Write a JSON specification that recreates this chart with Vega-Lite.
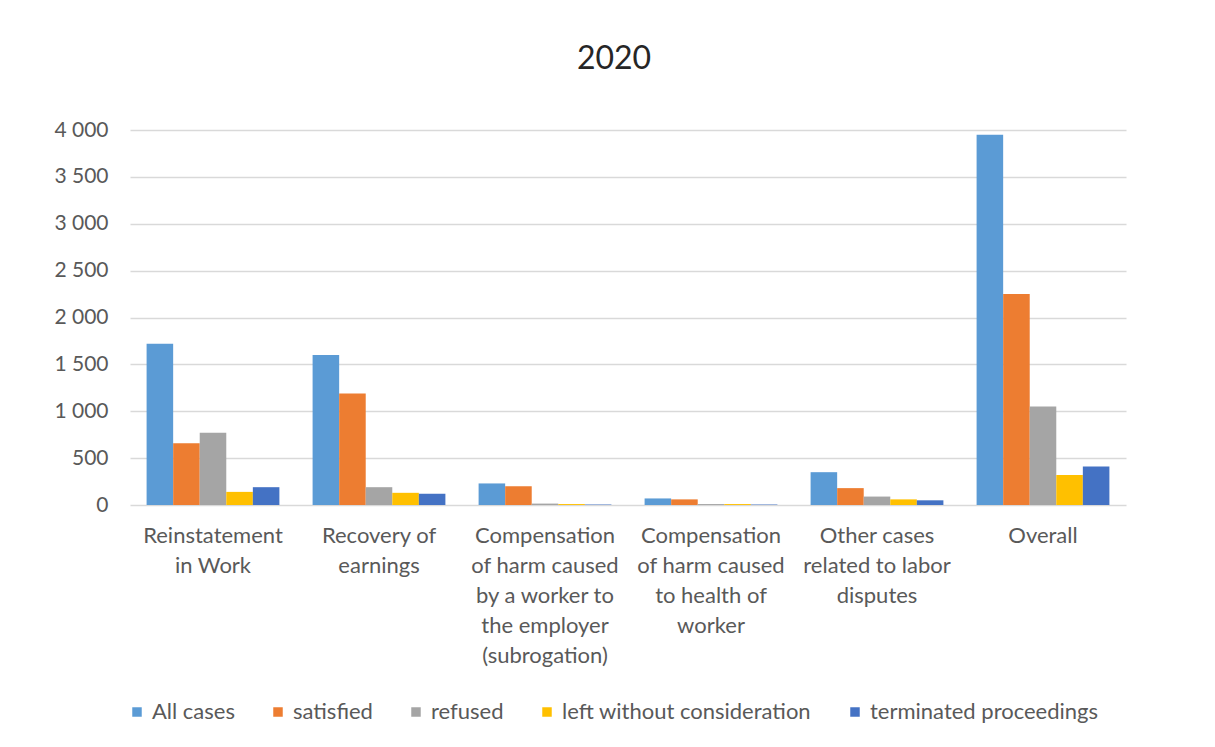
{
  "$schema": "https://vega.github.io/schema/vega-lite/v6.json",
  "autosize": "none",
  "width": 996,
  "height": 375,
  "padding": {"left": 130, "top": 130, "right": 89, "bottom": 242},
  "background": "white",
  "title": {"text": "2020", "fontSize": 32, "font": "Lato", "fontWeight": "normal", "color": "#262626", "anchor": "middle", "frame": "group", "offset": 43, "dx": -14},
  "data": {"values": [
    {"category": "Reinstatement in Work", "series": "All cases", "value": 1720},
    {"category": "Reinstatement in Work", "series": "satisfied", "value": 660},
    {"category": "Reinstatement in Work", "series": "refused", "value": 770},
    {"category": "Reinstatement in Work", "series": "left without consideration", "value": 140},
    {"category": "Reinstatement in Work", "series": "terminated proceedings", "value": 190},
    {"category": "Recovery of earnings", "series": "All cases", "value": 1600},
    {"category": "Recovery of earnings", "series": "satisfied", "value": 1190},
    {"category": "Recovery of earnings", "series": "refused", "value": 190},
    {"category": "Recovery of earnings", "series": "left without consideration", "value": 130},
    {"category": "Recovery of earnings", "series": "terminated proceedings", "value": 120},
    {"category": "Compensation of harm caused by a worker to the employer (subrogation)", "series": "All cases", "value": 230},
    {"category": "Compensation of harm caused by a worker to the employer (subrogation)", "series": "satisfied", "value": 200},
    {"category": "Compensation of harm caused by a worker to the employer (subrogation)", "series": "refused", "value": 15},
    {"category": "Compensation of harm caused by a worker to the employer (subrogation)", "series": "left without consideration", "value": 10},
    {"category": "Compensation of harm caused by a worker to the employer (subrogation)", "series": "terminated proceedings", "value": 5},
    {"category": "Compensation of harm caused to health of worker", "series": "All cases", "value": 70},
    {"category": "Compensation of harm caused to health of worker", "series": "satisfied", "value": 60},
    {"category": "Compensation of harm caused to health of worker", "series": "refused", "value": 10},
    {"category": "Compensation of harm caused to health of worker", "series": "left without consideration", "value": 10},
    {"category": "Compensation of harm caused to health of worker", "series": "terminated proceedings", "value": 5},
    {"category": "Other cases related to labor disputes", "series": "All cases", "value": 350},
    {"category": "Other cases related to labor disputes", "series": "satisfied", "value": 180},
    {"category": "Other cases related to labor disputes", "series": "refused", "value": 90},
    {"category": "Other cases related to labor disputes", "series": "left without consideration", "value": 60},
    {"category": "Other cases related to labor disputes", "series": "terminated proceedings", "value": 50},
    {"category": "Overall", "series": "All cases", "value": 3950},
    {"category": "Overall", "series": "satisfied", "value": 2250},
    {"category": "Overall", "series": "refused", "value": 1050},
    {"category": "Overall", "series": "left without consideration", "value": 320},
    {"category": "Overall", "series": "terminated proceedings", "value": 410}
  ]},
  "mark": {"type": "bar"},
  "encoding": {
    "x": {
      "field": "category", "type": "nominal",
      "sort": ["Reinstatement in Work", "Recovery of earnings", "Compensation of harm caused by a worker to the employer (subrogation)", "Compensation of harm caused to health of worker", "Other cases related to labor disputes", "Overall"],
      "scale": {"paddingInner": 0.2, "paddingOuter": 0.1},
      "axis": {
        "title": null, "labelAngle": 0, "ticks": false, "domain": false,
        "labelPadding": 20, "labelLineHeight": 30, "labelLimit": 200, "labelFontSize": 22,
        "labelExpr": "datum.value == 'Reinstatement in Work' ? ['Reinstatement', 'in Work'] : datum.value == 'Recovery of earnings' ? ['Recovery of', 'earnings'] : datum.value == 'Compensation of harm caused by a worker to the employer (subrogation)' ? ['Compensation', 'of harm caused', 'by a worker to', 'the employer', '(subrogation)'] : datum.value == 'Compensation of harm caused to health of worker' ? ['Compensation', 'of harm caused', 'to health of', 'worker'] : datum.value == 'Other cases related to labor disputes' ? ['Other cases', 'related to labor', 'disputes'] : datum.value"
      }
    },
    "xOffset": {"field": "series", "type": "nominal", "sort": ["All cases", "satisfied", "refused", "left without consideration", "terminated proceedings"]},
    "y": {
      "field": "value", "type": "quantitative",
      "scale": {"domain": [0, 4000]},
      "axis": {
        "title": null, "values": [0, 500, 1000, 1500, 2000, 2500, 3000, 3500, 4000],
        "labelOverlap": false,
        "ticks": false, "domain": false, "labelPadding": 22,
        "labelExpr": "replace(format(datum.value, ','), ',', ' ')",
        "gridColor": "#d9d9d9", "gridWidth": 1.5
      }
    },
    "color": {
      "field": "series", "type": "nominal",
      "scale": {
        "domain": ["All cases", "satisfied", "refused", "left without consideration", "terminated proceedings"],
        "range": ["#5B9BD5", "#ED7D31", "#A5A5A5", "#FFC000", "#4472C4"]
      },
      "legend": {
        "title": null, "orient": "none", "direction": "horizontal",
        "legendX": -4, "legendY": 571,
        "symbolType": "square", "symbolSize": 90, "symbolStrokeWidth": 0,
        "labelFontSize": 22, "labelFont": "Lato", "labelColor": "#595959",
        "columnPadding": 32, "labelOffset": 4, "labelLimit": 400
      }
    }
  },
  "config": {
    "view": {"stroke": null},
    "axis": {"labelFont": "Lato", "labelFontSize": 21, "labelColor": "#595959"},
    "axisX": {"grid": false}
  }
}
